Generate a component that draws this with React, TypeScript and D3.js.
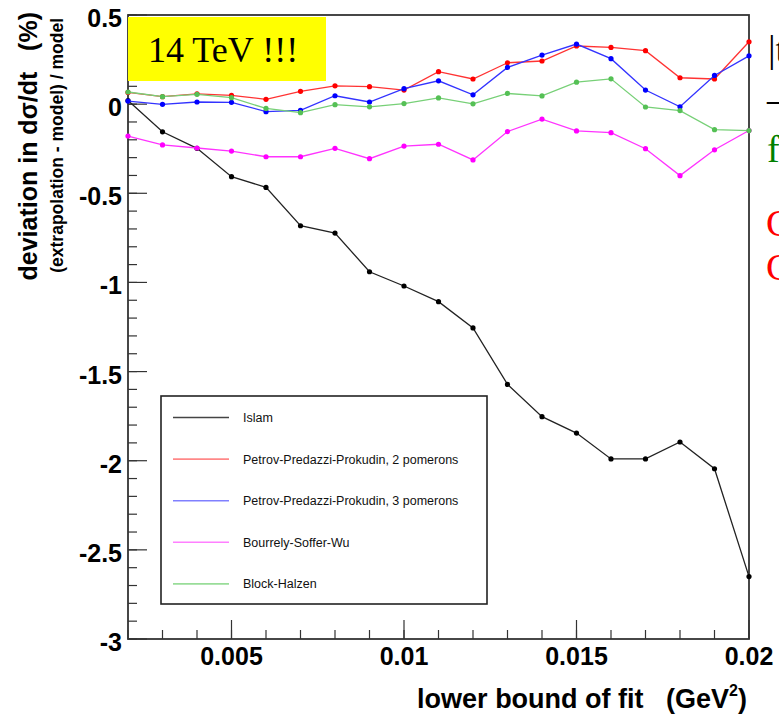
import * as d3 from 'd3';

const xValues = [0.002, 0.003, 0.004, 0.005, 0.006, 0.007, 0.008, 0.009, 0.01, 0.011, 0.012, 0.013, 0.014, 0.015, 0.016, 0.017, 0.018, 0.019, 0.02];

const islam = [0.02, -0.155, -0.248, -0.407, -0.467, -0.682, -0.723, -0.94, -1.02, -1.108, -1.255, -1.572, -1.753, -1.845, -1.99, -1.99, -1.895, -2.045, -2.65];
const ppp2 = [0.066, 0.042, 0.058, 0.049, 0.027, 0.072, 0.103, 0.098, 0.079, 0.182, 0.141, 0.232, 0.242, 0.326, 0.318, 0.3, 0.148, 0.141, 0.35];
const ppp3 = [0.017, -0.001, 0.012, 0.01, -0.042, -0.035, 0.047, 0.012, 0.087, 0.131, 0.052, 0.206, 0.275, 0.337, 0.255, 0.079, -0.015, 0.161, 0.271];
const bsw = [-0.179, -0.229, -0.246, -0.263, -0.295, -0.295, -0.248, -0.306, -0.235, -0.225, -0.313, -0.154, -0.084, -0.15, -0.16, -0.25, -0.401, -0.256, -0.148];
const blockHalzen = [0.068, 0.042, 0.055, 0.036, -0.024, -0.048, -0.003, -0.015, 0.003, 0.035, 0.002, 0.06, 0.046, 0.123, 0.142, -0.016, -0.036, -0.143, -0.148];

const seriesNames = ['Islam', 'Petrov-Predazzi-Prokudin, 2 pomerons', 'Petrov-Predazzi-Prokudin, 3 pomerons', 'Bourrely-Soffer-Wu', 'Block-Halzen'];

const xTickLabels = [0.005, 0.01, 0.015, 0.02];
const yTickLabels = [0.5, 0, -0.5, -1, -1.5, -2, -2.5, -3];

const sans = '"Liberation Sans", Arial, Helvetica, sans-serif';
const serif = '"Liberation Serif", "Times New Roman", serif';

function App() {
    const margin = { top: 15, right: 30, bottom: 77, left: 128 };
    const width = 779;
    const height = 716;

    const x = d3.scaleLinear().domain([0.002, 0.02]).range([margin.left, width - margin.right]);
    const y = d3.scaleLinear().domain([-3, 0.5]).range([height - margin.bottom, margin.top]);

    const series = [
        { name: seriesNames[0], values: islam, line: '#222222', dot: '#000000', legend: '#444444' },
        { name: seriesNames[1], values: ppp2, line: '#ff3333', dot: '#ff0000', legend: '#ff8888' },
        { name: seriesNames[2], values: ppp3, line: '#3333ff', dot: '#0000ff', legend: '#8080ff' },
        { name: seriesNames[3], values: bsw, line: '#ff33ff', dot: '#ff00ff', legend: '#ff80ff' },
        { name: seriesNames[4], values: blockHalzen, line: '#77d077', dot: '#55c055', legend: '#99dd99' },
    ];

    const line = d3.line<number>()
        .x((_, i) => x(xValues[i]))
        .y((d) => y(d));

    const xMinor = x.ticks(18);
    const yMinor = y.ticks(35);
    const [x0, x1] = x.range();
    const [y0, y1] = y.range();

    const legend = { x: 161, y: 396, w: 326, h: 208 };
    const rowH = 41.6;

    return (
        <svg width={width} height={height} style={{ position: 'absolute', left: 0, top: 0, background: '#fff' }}>
            <rect x={0} y={0} width={width} height={height} fill="#fff" />

            {/* frame */}
            <rect x={x0} y={y1} width={x1 - x0} height={y0 - y1} fill="none" stroke="#333" strokeWidth={1.8} />

            {/* x ticks */}
            {xMinor.map((t, i) => (
                <line key={'xm' + i} x1={x(t)} x2={x(t)} y1={y0} y2={y0 - 9} stroke="#333" strokeWidth={1.2} />
            ))}
            {xTickLabels.map((t) => (
                <g key={'xt' + t}>
                    <line x1={x(t)} x2={x(t)} y1={y0} y2={y0 - 19} stroke="#333" strokeWidth={1.2} />
                    <text x={x(t)} y={y0 + 26} textAnchor="middle" fontFamily={sans} fontWeight="bold" fontSize={25}>
                        {t}
                    </text>
                </g>
            ))}

            {/* y ticks */}
            {yMinor.map((t, i) => (
                <line key={'ym' + i} x1={x0} x2={x0 + 9} y1={y(t)} y2={y(t)} stroke="#333" strokeWidth={1.2} />
            ))}
            {yTickLabels.map((t) => (
                <g key={'yt' + t}>
                    <line x1={x0} x2={x0 + 19} y1={y(t)} y2={y(t)} stroke="#333" strokeWidth={1.2} />
                    <text x={x0 - 6} y={y(t) + 12} textAnchor="end" fontFamily={sans} fontWeight="bold" fontSize={25}>
                        {t === 0 ? '0' : String(t)}
                    </text>
                </g>
            ))}

            {/* series */}
            {series.map((s) => (
                <g key={s.name}>
                    <path d={line(s.values) || ''} fill="none" stroke={s.line} strokeWidth={1.3} />
                    {s.values.map((v, i) => (
                        <circle key={i} cx={x(xValues[i])} cy={y(v)} r={2.6} fill={s.dot} />
                    ))}
                </g>
            ))}

            {/* legend */}
            <rect x={legend.x} y={legend.y} width={legend.w} height={legend.h} fill="#fff" stroke="#222" strokeWidth={1.6} />
            {series.map((s, i) => {
                const ly = legend.y + 21.5 + i * rowH;
                return (
                    <g key={'lg' + i}>
                        <line x1={173} x2={229} y1={ly} y2={ly} stroke={s.legend} strokeWidth={1.6} />
                        <text x={243} y={ly + 4.5} fontFamily={sans} fontSize={12.5} fill="#111">
                            {s.name}
                        </text>
                    </g>
                );
            })}

            {/* yellow label */}
            <rect x={128} y={17} width={198} height={64} fill="#ffff00" />
            <text x={148} y={62} fontFamily={serif} fontSize={36} fill="#000">14 TeV !!!</text>

            {/* axis titles */}
            <text
                transform="translate(37,12) rotate(-90)"
                textAnchor="end"
                fontFamily={sans}
                fontWeight="bold"
                fontSize={25}
                style={{ whiteSpace: 'pre' }}
            >
                {'deviation in dσ/dt   (%)'}
            </text>
            <text
                transform="translate(63,18) rotate(-90)"
                textAnchor="end"
                fontFamily={sans}
                fontWeight="bold"
                fontSize={17.5}
                style={{ whiteSpace: 'pre' }}
            >
                {'(extrapolation - model) / model'}
            </text>
            <text x={747} y={708} textAnchor="end" fontFamily={sans} fontWeight="bold" fontSize={27} style={{ whiteSpace: 'pre' }}>
                {'lower bound of fit   (GeV'}
                <tspan fontSize={16} dy={-12}>2</tspan>
                <tspan dy={12}>)</tspan>
            </text>

            {/* text from the neighbouring slide, cut at the edge as in the original */}
            <text x={768} y={62} fontFamily={serif} fontSize={38} fill="#000">|t|</text>
            <text x={767} y={112} fontFamily={serif} fontSize={38} fill="#000">–</text>
            <text x={767} y={162} fontFamily={serif} fontSize={38} fill="#008000">f</text>
            <text x={766} y={236} fontFamily={serif} fontSize={38} fill="#ff0000">C</text>
            <text x={766} y={280} fontFamily={serif} fontSize={38} fill="#ff0000">C</text>
        </svg>
    );
}

export default App;
